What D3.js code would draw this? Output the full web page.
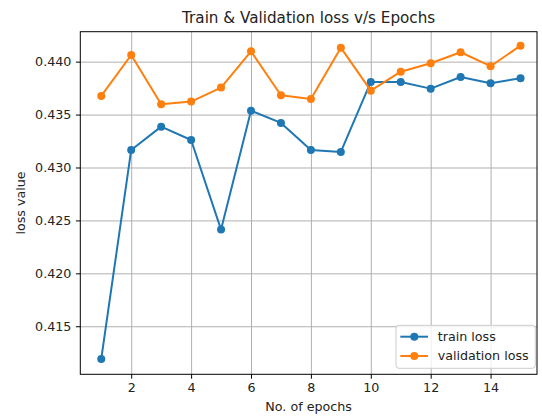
<!DOCTYPE html>
<html>
<head>
<meta charset="utf-8">
<script src="https://cdn.jsdelivr.net/npm/d3@7"></script>
<style>
  body { margin: 0; background: #fff; }
  svg { display: block; font-family: "DejaVu Sans", sans-serif; }
</style>
</head>
<body>
<svg width="542" height="417"></svg>
<script>
// data
const epochs = [1, 2, 3, 4, 5, 6, 7, 8, 9, 10, 11, 12, 13, 14, 15];
const trainLoss = [0.41191, 0.43166, 0.43386, 0.43260, 0.42413, 0.43537, 0.43421, 0.43166,
                   0.43147, 0.43808, 0.43808, 0.43745, 0.43855, 0.43796, 0.43843];
const valLoss = [0.43676, 0.44063, 0.43597, 0.43623, 0.43755, 0.44098, 0.43682, 0.43647,
                 0.44132, 0.43726, 0.43905, 0.43985, 0.44089, 0.43957, 0.44151];
const xTicks = [2, 4, 6, 8, 10, 12, 14];
const yTicks = [0.415, 0.420, 0.425, 0.430, 0.435, 0.440];
const seriesNames = ["train loss", "validation loss"];
const colors = ["#1f77b4", "#ff7f0e"];

const svg = d3.select("svg");
const width = +svg.attr("width");
const height = +svg.attr("height");

const fontSize = "12.7px";

const margin = {top: 31.7, left: 80.3, bottom: 42.7, right: 5};
const innerwidth = width - margin.left - margin.right;
const innerheight = height - margin.top - margin.bottom;

const xScale = d3.scaleLinear()
    .domain([0.3, 15.55])
    .range([0, innerwidth]);

const yScale = d3.scaleLinear()
    .domain([0.41046, 0.44283])
    .range([innerheight, 0]);

const g = svg.append("g")
    .attr("transform", `translate(${margin.left}, ${margin.top})`);

// grid
const gridX = g.append("g")
    .attr("transform", `translate(0, ${innerheight})`)
    .call(d3.axisBottom(xScale).tickValues(xTicks).tickSize(-innerheight).tickFormat(""));
const gridY = g.append("g")
    .call(d3.axisLeft(yScale).tickValues(yTicks).tickSize(-innerwidth).tickFormat(""));
[gridX, gridY].forEach(a => {
    a.select(".domain").remove();
    a.selectAll(".tick line").attr("stroke", "#b0b0b0").attr("stroke-width", 1);
});

// axes
const xAxisG = g.append("g")
    .attr("transform", `translate(0, ${innerheight})`)
    .call(d3.axisBottom(xScale).tickValues(xTicks).tickSize(4.4).tickPadding(4.3).tickFormat(d3.format("d")));
const yAxisG = g.append("g")
    .call(d3.axisLeft(yScale).tickValues(yTicks).tickSize(4.4).tickPadding(4.5).tickFormat(d3.format(".3f")));
[xAxisG, yAxisG].forEach(a => {
    a.select(".domain").remove();
    a.selectAll(".tick line").attr("stroke", "#000").attr("stroke-width", 1);
    a.selectAll(".tick text")
        .attr("fill", "#222")
        .style("font-size", fontSize)
        .style("font-family", "DejaVu Sans");
});

// lines and markers
const series = [trainLoss, valLoss];
const line = d3.line()
    .x((d, i) => xScale(epochs[i]))
    .y(d => yScale(d));

series.forEach((vals, k) => {
    g.append("path")
        .datum(vals)
        .attr("fill", "none")
        .attr("stroke", colors[k])
        .attr("stroke-width", 2)
        .attr("stroke-linejoin", "round")
        .attr("d", line);
    g.selectAll(null).data(vals)
        .enter().append("circle")
            .attr("cx", (d, i) => xScale(epochs[i]))
            .attr("cy", d => yScale(d))
            .attr("r", 4)
            .attr("fill", colors[k]);
});

// frame
g.append("rect")
    .attr("width", innerwidth)
    .attr("height", innerheight)
    .attr("fill", "none")
    .attr("stroke", "#000")
    .attr("stroke-width", 1);

// title and axis labels
svg.append("text")
    .attr("x", margin.left + innerwidth / 2)
    .attr("y", 23)
    .attr("text-anchor", "middle")
    .attr("fill", "#222")
    .style("font-size", "15.2px")
    .text("Train & Validation loss v/s Epochs");

svg.append("text")
    .attr("x", margin.left + innerwidth / 2)
    .attr("y", 411)
    .attr("text-anchor", "middle")
    .attr("fill", "#222")
    .style("font-size", fontSize)
    .text("No. of epochs");

svg.append("text")
    .attr("transform", `translate(25, ${margin.top + innerheight / 2}) rotate(-90)`)
    .attr("text-anchor", "middle")
    .attr("fill", "#222")
    .style("font-size", fontSize)
    .text("loss value");

// legend
const legend = svg.append("g")
    .attr("transform", "translate(396, 325.3)");
legend.append("rect")
    .attr("width", 139.3)
    .attr("height", 43)
    .attr("rx", 3)
    .attr("fill", "#fff")
    .attr("fill-opacity", 0.8)
    .attr("stroke", "#ccc")
    .attr("stroke-width", 1);

const items = legend.selectAll("g.item").data(seriesNames)
    .enter().append("g")
        .attr("class", "item")
        .attr("transform", (d, i) => `translate(0, ${11.4 + i * 19.3})`);
items.append("line")
    .attr("x1", 4.3).attr("x2", 32)
    .attr("stroke", (d, i) => colors[i])
    .attr("stroke-width", 2);
items.append("circle")
    .attr("cx", 18.3)
    .attr("r", 4)
    .attr("fill", (d, i) => colors[i]);
items.append("text")
    .attr("x", 41.7)
    .attr("dy", "0.35em")
    .attr("fill", "#222")
    .style("font-size", fontSize)
    .text(d => d);
</script>
</body>
</html>
